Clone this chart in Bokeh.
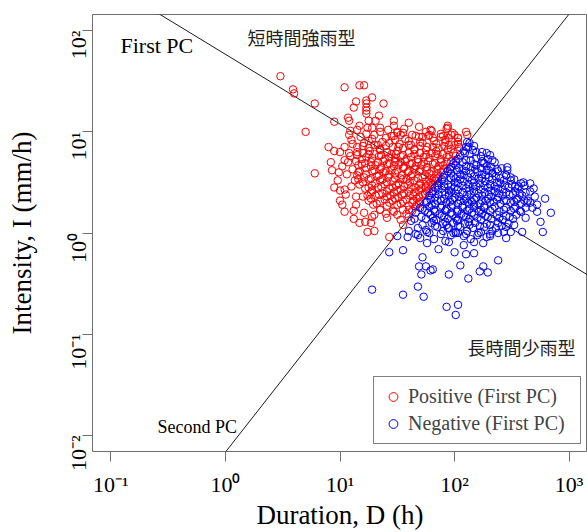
import math
import numpy as np
from bokeh.plotting import figure
from bokeh.models import (Range1d, FixedTicker, Label, Legend, LegendItem,
                          ColumnDataSource)
from bokeh.embed import file_html
from bokeh.resources import INLINE

# ---------------- data (log10 of duration D [h] and intensity I [mm/h]) ----------------
pos_log10_D = [
    1.28, 1.42, 1.56, 1.69, 1.80, 1.93,
    1.23, 1.35, 1.50, 1.63, 1.75, 1.88, 1.98,
    1.18, 1.28, 1.40, 1.47, 1.57, 1.69, 1.81, 1.92, 2.03,
    1.25, 1.37, 1.48, 1.60, 1.70, 1.82, 1.92,
    1.11, 1.21, 1.33, 1.43, 1.52, 1.62, 1.72, 1.84, 1.95, 2.03,
    1.15, 1.25, 1.35, 1.46, 1.55, 1.65, 1.76, 1.86, 1.97, 2.04,
    1.26, 1.35, 1.50, 1.65, 1.75, 1.84, 1.94,
    1.20, 1.30, 1.41, 1.49, 1.60, 1.70, 1.80, 1.90, 1.99,
    1.09, 1.23, 1.34, 1.43, 1.53, 1.62, 1.73, 1.83, 1.93, 2.01,
    1.19, 1.28, 1.39, 1.48, 1.58, 1.68, 1.78, 1.88,
    1.14, 1.27, 1.38, 1.48, 1.57, 1.68, 1.77, 1.88, 1.97,
    1.19, 1.31, 1.41, 1.51, 1.61, 1.71, 1.81, 1.90,
    1.27, 1.36, 1.47, 1.56, 1.66, 1.76, 1.86,
    1.11, 1.23, 1.35, 1.45, 1.55, 1.65, 1.76, 1.85, 1.93,
    1.16, 1.28, 1.38, 1.48, 1.59, 1.69, 1.78, 1.88,
    1.23, 1.34, 1.43, 1.54, 1.63, 1.74, 1.84,
    1.21, 1.32, 1.42, 1.53, 1.62, 1.72, 1.82, 1.86,
    1.13, 1.25, 1.35, 1.46, 1.55, 1.65, 1.75, 1.83,
    1.20, 1.31, 1.41, 1.51, 1.61, 1.70, 1.79,
    1.17, 1.28, 1.39, 1.49, 1.59, 1.69, 1.77,
    1.22, 1.33, 1.43, 1.53, 1.62, 1.71, 1.78,
    1.28, 1.41, 1.50, 1.60, 1.69, 1.76,
    1.27, 1.37, 1.47, 1.56, 1.65, 1.74,
    1.20, 1.31, 1.41, 1.51, 1.61, 1.69,
    1.27, 1.39, 1.48, 1.58, 1.67,
    1.25, 1.35, 1.46, 1.55, 1.64, 1.70,
    1.29, 1.41, 1.50, 1.60, 1.67,
    1.35, 1.46, 1.55, 1.63,
    1.30, 1.45, 1.53, 1.66, 1.78, 1.90, 2.00,
    1.20, 1.30, 1.40, 1.51, 1.60, 1.70, 1.81, 1.91, 2.00,
    1.15, 1.25, 1.36, 1.45, 1.55, 1.65, 1.75, 1.85, 1.95,
    1.22, 1.33, 1.43, 1.53, 1.63, 1.73, 1.83, 1.93,
    1.17, 1.30, 1.40, 1.50, 1.60, 1.70, 1.80, 1.90,
    1.16, 1.27, 1.37, 1.48, 1.58, 1.68, 1.78, 1.85,
    1.25, 1.36, 1.46, 1.56, 1.66, 1.75, 1.80,
    1.24, 1.34, 1.44, 1.54, 1.64, 1.72,
    1.32, 1.43, 1.53, 1.63, 1.69,
    1.30, 1.40, 1.50, 1.58,
    1.00, 1.02, 0.98, 1.05, 1.06, 1.10, 1.02, 0.93, 1.07, 1.10,
    0.48, 0.59, 0.60, 0.78, 0.70, 0.95, 1.04, 1.14, 1.12, 1.07,
    1.08, 1.17, 1.09, 1.15, 1.08, 0.90, 0.95, 1.04, 1.08, 1.15,
    1.17, 1.21, 1.28, 1.38, 1.23, 1.23, 1.23, 1.23, 1.23, 1.34,
    1.25, 1.31, 1.47, 1.60, 1.47, 1.79, 1.94, 1.94, 1.72, 1.77,
    1.88, 1.95, 2.03, 1.35, 1.24, 1.50, 1.55, 0.78, 0.95, 1.00,
    1.04, 1.00, 1.04, 1.12, 1.12, 1.14, 1.14, 1.15, 1.16, 1.17,
    1.04, 1.24, 1.30, 1.22, 1.27, 1.21, 1.28, 1.41, 1.35, 1.47,
    1.53, 1.55, 1.60, 1.60, 1.66, 1.43, 2.10, 2.11, 2.03, 1.97,
    0.92, 0.99,
]
pos_log10_I = [
    1.04, 1.02, 1.03, 1.05, 1.01, 1.03,
    0.98, 1.00, 0.99, 0.97, 1.00, 0.98, 0.99,
    0.95, 0.93, 0.94, 0.96, 0.93, 0.95, 0.94, 0.92, 0.94,
    0.91, 0.90, 0.92, 0.91, 0.90, 0.91, 0.90,
    0.88, 0.89, 0.87, 0.89, 0.88, 0.87, 0.89, 0.88, 0.87, 0.88,
    0.85, 0.84, 0.83, 0.85, 0.84, 0.83, 0.85, 0.84, 0.83, 0.85,
    0.81, 0.82, 0.81, 0.82, 0.82, 0.81, 0.82,
    0.79, 0.78, 0.80, 0.78, 0.79, 0.79, 0.79, 0.78, 0.79,
    0.76, 0.75, 0.76, 0.75, 0.76, 0.75, 0.75, 0.76, 0.75, 0.76,
    0.73, 0.74, 0.73, 0.74, 0.73, 0.73, 0.74, 0.73,
    0.71, 0.70, 0.71, 0.70, 0.71, 0.70, 0.71, 0.70, 0.71,
    0.68, 0.67, 0.68, 0.67, 0.68, 0.67, 0.68, 0.67,
    0.66, 0.65, 0.66, 0.65, 0.66, 0.65, 0.66,
    0.63, 0.64, 0.63, 0.62, 0.64, 0.63, 0.62, 0.63, 0.64,
    0.60, 0.61, 0.60, 0.59, 0.60, 0.61, 0.59, 0.60,
    0.58, 0.57, 0.58, 0.57, 0.58, 0.57, 0.58,
    0.55, 0.56, 0.55, 0.54, 0.56, 0.55, 0.54, 0.55,
    0.52, 0.53, 0.52, 0.51, 0.53, 0.52, 0.51, 0.52,
    0.50, 0.49, 0.50, 0.49, 0.50, 0.49, 0.50,
    0.48, 0.47, 0.48, 0.47, 0.48, 0.47, 0.48,
    0.44, 0.45, 0.44, 0.43, 0.45, 0.44, 0.43,
    0.42, 0.41, 0.42, 0.41, 0.42, 0.41,
    0.40, 0.39, 0.40, 0.39, 0.40, 0.39,
    0.36, 0.37, 0.36, 0.35, 0.37, 0.36,
    0.34, 0.33, 0.34, 0.33, 0.34,
    0.32, 0.31, 0.32, 0.31, 0.32, 0.31,
    0.28, 0.27, 0.28, 0.27, 0.28,
    0.23, 0.22, 0.23, 0.22,
    0.97, 0.96, 0.97, 0.96, 0.97, 0.96, 0.97,
    0.86, 0.87, 0.86, 0.85, 0.87, 0.86, 0.85, 0.86, 0.87,
    0.77, 0.78, 0.77, 0.78, 0.77, 0.78, 0.77, 0.78, 0.77,
    0.69, 0.70, 0.69, 0.70, 0.69, 0.70, 0.69, 0.70,
    0.61, 0.62, 0.61, 0.62, 0.61, 0.62, 0.61, 0.62,
    0.53, 0.54, 0.53, 0.54, 0.53, 0.54, 0.53, 0.54,
    0.45, 0.46, 0.45, 0.46, 0.45, 0.46, 0.45,
    0.37, 0.38, 0.37, 0.38, 0.37, 0.38,
    0.29, 0.30, 0.29, 0.30, 0.29,
    0.18, 0.19, 0.18, 0.19,
    0.80, 0.66, 0.52, 0.38, 0.58, 0.46, 0.28, 0.62, 0.70, 0.92,
    1.55, 1.42, 1.38, 1.28, 1.00, 1.10, 1.44, 1.30, 1.24, 1.14,
    1.11, 1.46, 1.01, 1.02, 0.97, 0.85, 0.81, 0.85, 0.79, 0.80,
    1.06, 1.46, 1.34, 1.28, 1.31, 1.28, 1.24, 1.21, 1.18, 1.16,
    1.11, 1.11, 1.11, 1.09, 1.06, 1.02, 1.06, 1.04, 0.95, 0.96,
    0.95, 0.94, 0.90, 1.04, 1.04, 1.00, 0.99, 0.59, 0.45, 0.42,
    0.43, 0.32, 0.21, 0.22, 0.14, 0.36, 0.28, 0.57, 0.67, 0.10,
    0.72, 0.01, 0.02, 0.11, 0.10, 0.20, 0.16, 0.15, 0.23, 0.21,
    0.13, 0.08, 0.16, 0.23, 0.26, -0.04, 1.00, 0.97, 0.94, 0.97,
    0.70, 0.60,
]

neg_log10_D = [
    2.13,
    2.10, 2.17,
    2.08, 2.16, 2.24,
    2.05, 2.13, 2.23, 2.31,
    2.03, 2.10, 2.19, 2.29,
    1.99, 2.07, 2.17, 2.26, 2.35,
    2.01, 2.10, 2.19, 2.28,
    1.97, 2.04, 2.14, 2.23, 2.32, 2.41,
    1.94, 2.02, 2.10, 2.20, 2.30, 2.38,
    1.97, 2.05, 2.14, 2.24, 2.33,
    1.91, 1.99, 2.08, 2.17, 2.27, 2.36, 2.45,
    1.89, 1.97, 2.05, 2.15, 2.24, 2.33, 2.43, 2.52,
    1.91, 2.00, 2.08, 2.17, 2.27, 2.37,
    1.86, 1.94, 2.03, 2.12, 2.22, 2.31, 2.40, 2.50, 2.58,
    1.83, 1.91, 2.00, 2.10, 2.19, 2.29, 2.38, 2.47, 2.56,
    1.86, 1.95, 2.03, 2.13, 2.23, 2.32, 2.42,
    1.81, 1.89, 1.97, 2.07, 2.17, 2.26, 2.35, 2.45, 2.53, 2.62,
    1.78, 1.86, 1.95, 2.04, 2.14, 2.24, 2.32, 2.42, 2.51, 2.59,
    1.83, 1.91, 2.00, 2.10, 2.19, 2.29, 2.38,
    1.79, 1.88, 1.98, 2.08, 2.17, 2.27, 2.37, 2.45, 2.54, 2.64,
    1.75, 1.83, 1.93, 2.03, 2.12, 2.22, 2.31, 2.40, 2.49, 2.58, 2.66,
    1.80, 1.89, 1.98, 2.07, 2.17, 2.26,
    1.78, 1.88, 1.97, 2.07, 2.17, 2.26, 2.35, 2.45, 2.53, 2.62,
    1.74, 1.83, 1.92, 2.02, 2.11, 2.21, 2.31, 2.39, 2.49, 2.58,
    1.77, 1.87, 1.97, 2.06, 2.15, 2.24,
    1.79, 1.89, 1.98, 2.08, 2.17, 2.27, 2.37, 2.45, 2.54,
    1.75, 1.84, 1.94, 2.03, 2.13, 2.23, 2.32, 2.42, 2.51,
    1.82, 1.92, 2.02, 2.12,
    1.80, 1.90, 1.99, 2.09, 2.18, 2.28, 2.38, 2.47,
    1.85, 1.95, 2.05, 2.16, 2.26, 2.36, 2.45,
    1.90, 2.01, 2.11, 2.23, 2.33, 2.43,
    1.97, 2.08, 2.20, 2.31,
    2.09, 2.19, 2.28,
    2.01, 2.14, 2.24, 2.33,
    1.96, 2.07, 2.18, 2.28, 2.37, 2.46,
    1.90, 2.01, 2.12, 2.21, 2.30, 2.40, 2.49,
    1.85, 1.97, 2.07, 2.16, 2.26, 2.35, 2.44, 2.53, 2.61,
    1.80, 1.92, 2.01, 2.11, 2.21, 2.30, 2.39, 2.48, 2.57,
    1.76, 1.85, 1.96, 2.05, 2.15, 2.24, 2.34, 2.43, 2.52, 2.61,
    1.72, 1.82, 1.93, 2.03, 2.13, 2.23, 2.33, 2.43, 2.52,
    1.71, 1.81, 1.91, 2.01, 2.10, 2.20, 2.29, 2.39, 2.48,
    1.72, 1.83, 1.93, 2.03, 2.13, 2.22, 2.31, 2.41,
    1.78, 1.88, 1.99, 2.10, 2.21, 2.31,
    1.68, 1.82, 1.92, 2.14, 2.28,
    2.60, 2.63, 2.70, 2.57, 2.55, 2.72,
    1.50, 1.59, 1.66, 1.70, 1.76, 1.43, 1.55, 1.72, 1.86, 1.95,
    1.69, 1.75, 1.79, 1.81, 1.71, 1.95, 1.28, 1.55, 1.68, 1.73,
    1.93, 1.76, 2.00, 2.10, 2.17, 2.05, 2.12, 2.22, 2.25, 2.29,
    2.38, 2.03, 2.01, 1.94, 2.01, 2.08, 2.17, 2.25, 2.38, 2.45,
    2.49, 2.59, 2.75, 2.77, 2.84, 2.62, 2.52, 2.25, 2.33, 2.46,
    2.45, 2.49, 2.66, 2.69, 2.66, 2.55, 2.68, 2.11, 2.12, 2.03,
    1.75, 2.72, 2.79, 1.62, 1.66, 1.68, 1.60, 1.65, 1.70,
]
neg_log10_I = [
    0.89,
    0.85, 0.86,
    0.81, 0.82, 0.80,
    0.77, 0.78, 0.76, 0.77,
    0.73, 0.72, 0.74, 0.73,
    0.69, 0.70, 0.68, 0.69, 0.70,
    0.67, 0.66, 0.67, 0.66,
    0.65, 0.64, 0.65, 0.64, 0.65, 0.64,
    0.61, 0.62, 0.61, 0.60, 0.62, 0.61,
    0.59, 0.58, 0.59, 0.58, 0.59,
    0.57, 0.56, 0.57, 0.56, 0.57, 0.56, 0.57,
    0.53, 0.54, 0.53, 0.52, 0.54, 0.53, 0.52, 0.53,
    0.51, 0.50, 0.51, 0.50, 0.51, 0.50,
    0.49, 0.48, 0.49, 0.48, 0.49, 0.48, 0.49, 0.48, 0.49,
    0.45, 0.46, 0.45, 0.44, 0.46, 0.45, 0.44, 0.45, 0.46,
    0.43, 0.42, 0.43, 0.42, 0.43, 0.42, 0.43,
    0.41, 0.40, 0.41, 0.40, 0.41, 0.40, 0.41, 0.40, 0.41, 0.40,
    0.37, 0.38, 0.37, 0.36, 0.38, 0.37, 0.36, 0.37, 0.38, 0.37,
    0.35, 0.34, 0.35, 0.34, 0.35, 0.34, 0.35,
    0.33, 0.32, 0.33, 0.32, 0.33, 0.32, 0.33, 0.32, 0.33, 0.32,
    0.30, 0.29, 0.30, 0.29, 0.30, 0.29, 0.30, 0.29, 0.30, 0.29, 0.30,
    0.28, 0.27, 0.28, 0.27, 0.28, 0.27,
    0.26, 0.25, 0.26, 0.25, 0.26, 0.25, 0.26, 0.25, 0.26, 0.25,
    0.22, 0.21, 0.22, 0.21, 0.22, 0.21, 0.22, 0.21, 0.22, 0.21,
    0.20, 0.19, 0.20, 0.19, 0.20, 0.19,
    0.18, 0.17, 0.18, 0.17, 0.18, 0.17, 0.18, 0.17, 0.18,
    0.14, 0.13, 0.14, 0.13, 0.14, 0.13, 0.14, 0.13, 0.14,
    0.12, 0.11, 0.12, 0.11,
    0.10, 0.09, 0.10, 0.09, 0.10, 0.09, 0.10, 0.09,
    0.06, 0.05, 0.06, 0.05, 0.06, 0.05, 0.06,
    0.02, 0.01, 0.02, 0.01, 0.02, 0.01,
    -0.02, -0.03, -0.02, -0.03,
    0.79, 0.80, 0.79,
    0.71, 0.72, 0.71, 0.72,
    0.63, 0.62, 0.63, 0.62, 0.63, 0.62,
    0.55, 0.54, 0.55, 0.54, 0.55, 0.54, 0.55,
    0.47, 0.46, 0.47, 0.46, 0.47, 0.46, 0.47, 0.46, 0.47,
    0.39, 0.38, 0.39, 0.38, 0.39, 0.38, 0.39, 0.38, 0.39,
    0.31, 0.32, 0.31, 0.32, 0.31, 0.32, 0.31, 0.32, 0.31, 0.32,
    0.24, 0.23, 0.24, 0.23, 0.24, 0.23, 0.24, 0.23, 0.24,
    0.16, 0.15, 0.16, 0.15, 0.16, 0.15, 0.16, 0.15, 0.16,
    0.08, 0.07, 0.08, 0.07, 0.08, 0.07, 0.08, 0.07,
    0.00, -0.01, 0.00, -0.01, 0.00, -0.01,
    -0.02, -0.06, -0.08, -0.06, -0.04,
    0.50, 0.30, 0.36, 0.22, 0.44, 0.28,
    -0.03, -0.04, -0.01, -0.05, -0.10, -0.19, -0.17, -0.24, -0.16, -0.09,
    -0.33, -0.33, -0.37, -0.36, -0.41, -0.41, -0.56, -0.61, -0.53, -0.63,
    -0.73, 0.01, -0.19, -0.21, -0.20, -0.32, -0.45, -0.38, -0.33, -0.39,
    -0.27, -0.71, -0.81, 0.05, 0.00, -0.12, -0.09, -0.10, 0.00, -0.05,
    0.01, 0.01, 0.11, 0.01, 0.20, 0.15, 0.08, 0.69, 0.59, 0.65,
    0.57, 0.52, 0.49, 0.44, 0.41, 0.34, 0.25, 0.90, 0.85, 0.00,
    0.03, 0.21, 0.34, 0.12, 0.20, 0.05, 0.02, 0.14, 0.25,
]

x_tick_values = [0.1, 1, 10, 100, 1000]
x_tick_labels = ["10\u207b\u00b9", "10\u2070", "10\u00b9", "10\u00b2", "10\u00b3"]
y_tick_values = [0.01, 0.1, 1, 10, 100]
y_tick_labels = ["10\u207b\u00b2", "10\u207b\u00b9", "10\u2070", "10\u00b9", "10\u00b2"]
x_title = "Duration, D (h)"
y_title = "Intensity, I (mm/h)"

# principal component axes in log10 space: common centre and slopes
pc_center_log10 = (1.843, 0.495)
first_pc_slope = -0.690
second_pc_slope = 1.444

SERIF = "Liberation Serif"
CJK = "Noto Sans CJK JP"
GREY = "#6e6e6e"

p = figure(x_axis_type="log", y_axis_type="log",
           x_range=Range1d(10 ** -1.16, 10 ** 3.16),
           y_range=Range1d(10 ** -2.16, 10 ** 2.16),
           width=587, height=532,
           min_border_left=92, min_border_right=0,
           min_border_top=14, min_border_bottom=79,
           output_backend="svg", toolbar_location=None)
p.background_fill_color = "white"
p.border_fill_color = "white"
p.outline_line_color = GREY
p.outline_line_width = 1
p.xgrid.grid_line_color = None
p.ygrid.grid_line_color = None

for ax in (p.xaxis[0], p.yaxis[0]):
    ax.axis_line_color = None
    ax.major_tick_line_color = GREY
    ax.major_tick_out = 10
    ax.major_tick_in = 0
    ax.minor_tick_line_color = None
    ax.major_label_text_font = SERIF
    ax.major_label_text_font_size = "22px"
    ax.major_label_text_color = "black"
    ax.axis_label_text_font = SERIF
    ax.axis_label_text_font_size = "27px"
    ax.axis_label_text_font_style = "normal"
    ax.axis_label_text_color = "black"

p.xaxis[0].ticker = FixedTicker(ticks=x_tick_values)
p.xaxis[0].major_label_overrides = dict(zip(x_tick_values, x_tick_labels))
p.xaxis[0].major_label_standoff = 10
p.xaxis[0].axis_label = x_title
p.xaxis[0].axis_label_standoff = 0
p.yaxis[0].ticker = FixedTicker(ticks=y_tick_values)
p.yaxis[0].major_label_overrides = dict(zip(y_tick_values, y_tick_labels))
p.yaxis[0].major_label_orientation = math.pi / 2
p.yaxis[0].major_label_standoff = 4
p.yaxis[0].axis_label = y_title
p.yaxis[0].axis_label_standoff = 14

# PC lines
line_x = np.array([-1.4, 3.4])
first_y = pc_center_log10[1] + first_pc_slope * (line_x - pc_center_log10[0])
second_y = pc_center_log10[1] + second_pc_slope * (line_x - pc_center_log10[0])
p.line(10 ** line_x, 10 ** first_y, line_color="#1a1a1a", line_width=1)
p.line(10 ** line_x, 10 ** second_y, line_color="#1a1a1a", line_width=1)

src_pos = ColumnDataSource(dict(D=10 ** np.array(pos_log10_D), I=10 ** np.array(pos_log10_I)))
src_neg = ColumnDataSource(dict(D=10 ** np.array(neg_log10_D), I=10 ** np.array(neg_log10_I)))
r_pos = p.scatter("D", "I", source=src_pos, marker="circle", size=7.5,
                  fill_color=None, line_color="#ff0000", line_width=1)
r_neg = p.scatter("D", "I", source=src_neg, marker="circle", size=7.5,
                  fill_color=None, line_color="#0000ff", line_width=1)

legend = Legend(items=[LegendItem(label="Positive (First PC)", renderers=[r_pos]),
                       LegendItem(label="Negative (First PC)", renderers=[r_neg])],
                location=(281, 7), orientation="vertical",
                border_line_color="black", border_line_width=1,
                background_fill_color="white", background_fill_alpha=1,
                label_text_font=SERIF, label_text_font_size="20px",
                glyph_width=22, glyph_height=23, label_height=23, label_width=164,
                label_standoff=4, padding=8, spacing=4, margin=0)
p.add_layout(legend)

def lab(x, y, text, size, font=SERIF, color="black"):
    p.add_layout(Label(x=x, y=y, x_units="screen", y_units="screen", text=text,
                       text_font=font, text_font_size=size,
                       text_align="left", text_baseline="middle",
                       text_color=color))

lab(28, 406, "First PC", "22px")
lab(65, 25, "Second PC", "18px")
lab(155, 415, "短時間強雨型", "18px", font=CJK, color="#222222")
lab(375, 105, "長時間少雨型", "18px", font=CJK, color="#222222")

open("out.html", "w").write(file_html(p, INLINE))
